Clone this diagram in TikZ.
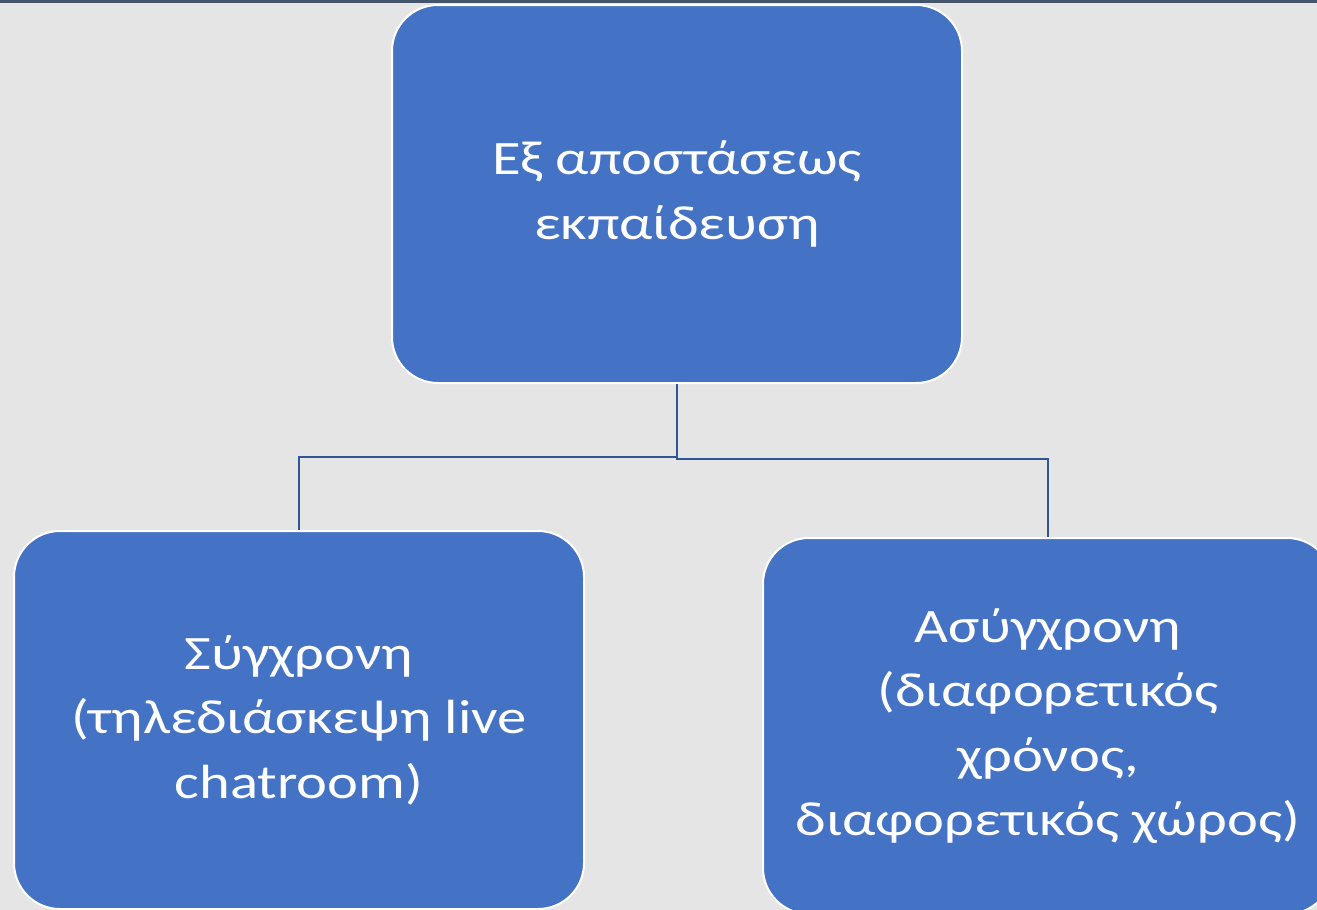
\documentclass[tikz,border=0pt]{standalone}
\usepackage{fontspec}
\setmainfont{Carlito}[FakeStretch=1.22]
\definecolor{bgc}{HTML}{E5E5E5}
\definecolor{boxc}{HTML}{4472C4}
\definecolor{linec}{HTML}{2F5597}
\definecolor{topc}{HTML}{44546A}
\tikzset{
  orgbox/.style={draw=white, line width=2pt, fill=boxc, rounded corners=46pt,
    text=white, align=center, font=\fontsize{48}{64.5}\selectfont, inner sep=0pt},
  conn/.style={draw=linec, line width=2pt}
}
\begin{document}
\begin{tikzpicture}[x=1pt,y=-1pt]
\useasboundingbox (0,0) rectangle (1317,910);
\fill[bgc] (0,0) rectangle (1317,910);
\fill[topc] (0,0) rectangle (1317,2.5);
\begin{scope}
\clip (0,0) rectangle (1317,910);
\node[orgbox, minimum width=570pt, minimum height=378pt] (top) at (677,194) {Εξ αποστάσεως\\εκπαίδευση};
\node[orgbox, minimum width=570pt, minimum height=378pt] (left) at (299,720) {Σύγχρονη\\(τηλεδιάσκεψη live\\chatroom)};
\node[orgbox, minimum width=570pt, minimum height=376pt] (right) at (1048,726) {Ασύγχρονη\\(διαφορετικός\\χρόνος,\\διαφορετικός χώρος)};
\end{scope}
\coordinate (mid) at (677,457);
\draw[conn] (top.south) -- (mid) -| (left.north);
\draw[conn] (mid) -- ++(0,2) -| (right.north);
\end{tikzpicture}
\end{document}
